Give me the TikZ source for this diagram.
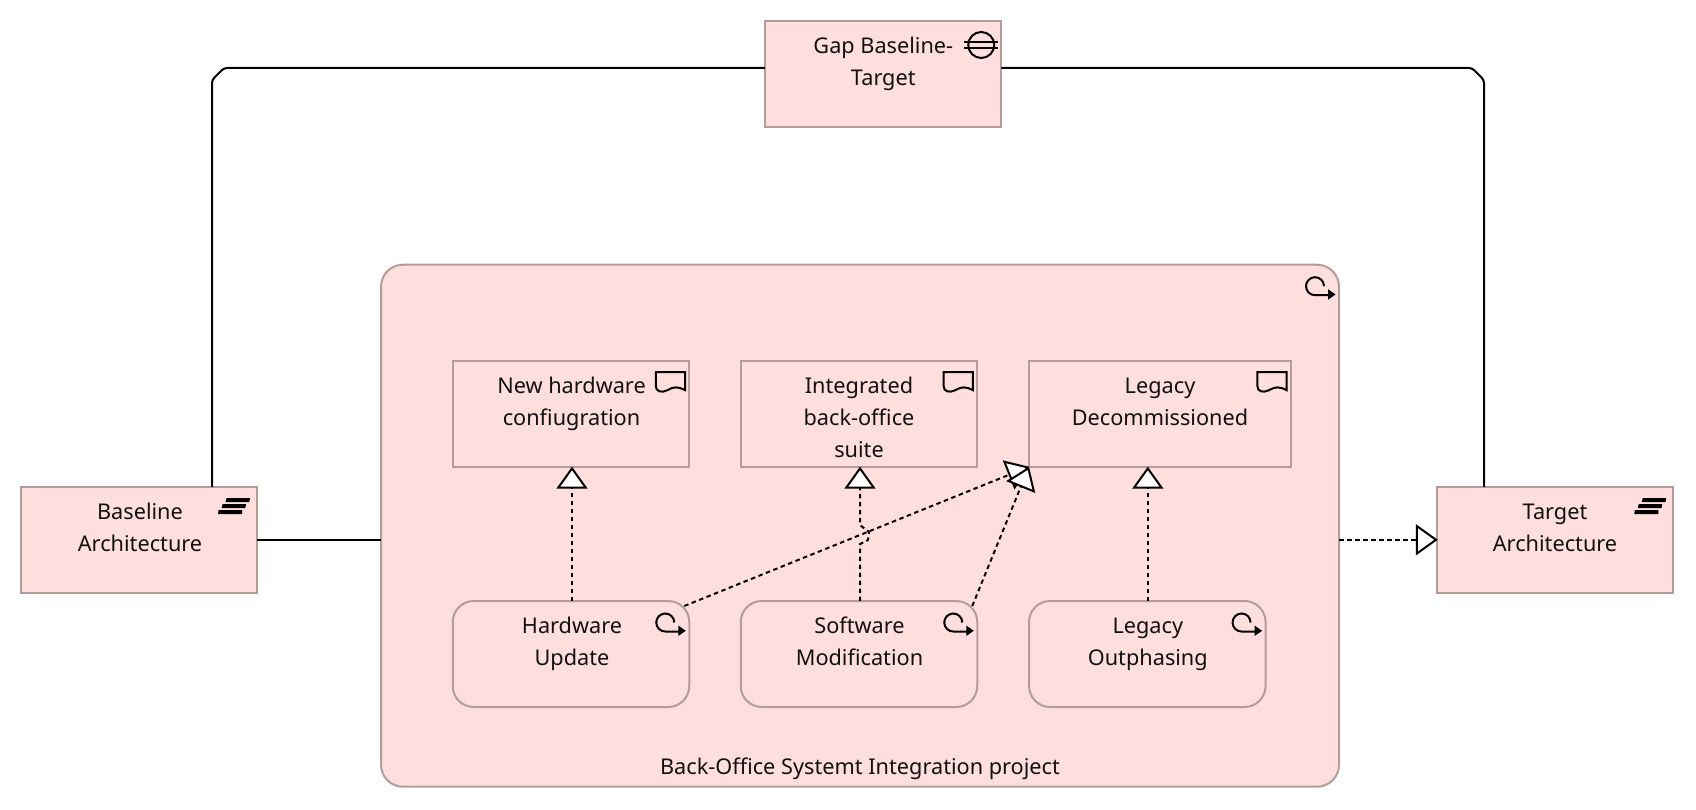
\documentclass[tikz,border=0pt]{standalone}
\usepackage{fontspec}
\setmainfont{Noto Sans}
\usetikzlibrary{arrows.meta,calc}
\definecolor{boxfill}{HTML}{FFDFDD}
\definecolor{boxline}{HTML}{B39C9C}
\definecolor{inktext}{HTML}{111111}
\tikzset{
  elem/.style={draw=boxline,fill=boxfill,line width=2pt,inner sep=0pt,outer sep=0pt,minimum width=236.5pt,minimum height=106pt},
  activ/.style={elem,rounded corners=21pt},
  lbl/.style={anchor=north,inner sep=0pt,outer sep=0pt,align=center,text=inktext,font=\fontsize{21.7}{32}\selectfont},
  conn/.style={draw=black,line width=2pt,line join=round},
  real/.style={conn,dash pattern=on 4.5pt off 3.5pt,-{Triangle[open,length=22pt,width=31pt,fill=white,line width=2pt]}},
  activityicon/.pic={
    \draw[line width=2pt,black] (-15,21.5) arc[start angle=0,end angle=-270,radius=9] -- (-10,30.5);
    \fill[black] (-11,24.5) -- (-3.5,29.8) -- (-11,35) -- cycle;
  },
  deliverableicon/.pic={
    \draw[line width=2pt,black,line join=miter] (-33.7,11.3) -- (-4.3,11.3) -- (-4.3,29.5)
      .. controls (-12,25.5) and (-16,26) .. (-22,29.5) .. controls (-28,32.5) and (-33.7,31) .. (-33.7,25) -- cycle;
  },
  plateauicon/.pic={
    \fill[black] (-30.5,11.3) -- (-7,11.3) -- (-7.8,15.3) -- (-31.5,15.3) -- cycle;
    \fill[black] (-34.5,17.3) -- (-11,17.3) -- (-11.8,21.3) -- (-35.5,21.3) -- cycle;
    \fill[black] (-38.5,23.3) -- (-15,23.3) -- (-15,27.3) -- (-39,27.3) -- cycle;
  },
  gapicon/.pic={
    \draw[line width=2pt,black] (-20,24.3) circle[radius=13];
    \draw[line width=2pt,black] (-37,21.5) -- (-3,21.5) (-37,27.5) -- (-3,27.5);
  }
}
\begin{document}
\begin{tikzpicture}[x=1pt,y=-1pt]
\useasboundingbox (0,0) rectangle (1696,810);
% project container
\node[elem,rounded corners=22pt,minimum width=958pt,minimum height=522pt] (big) at (860,525.7) {};
\pic at (big.north east) {activityicon};
\node[lbl] (bigl) at (860,752.2) {\strut Back-Office Systemt Integration project};
% plateaus and gap
\node[elem] (bl) at (138.8,539.8) {};
\node[elem] (tg) at (1555,539.8) {};
\node[elem] (gap) at (883,73.7) {};
\pic at (bl.north east) {plateauicon};
\pic at (tg.north east) {plateauicon};
\pic at (gap.north east) {gapicon};
\node[lbl] (bll) at ($(bl.north)+(1.2,10.3)$) {\strut Baseline\\Architecture};
\node[lbl] (tgl) at ($(tg.north)+(0,10.3)$) {\strut Target\\Architecture};
\node[lbl] (gapl) at ($(gap.north)+(0.3,10.3)$) {\strut Gap Baseline-\\Target};
% deliverables
\node[elem] (d1) at (571.2,413.7) {};
\node[elem] (d2) at (859,413.7) {};
\node[elem,minimum width=262pt] (d3) at (1160,413.7) {};
\pic at (d1.north east) {deliverableicon};
\pic at (d2.north east) {deliverableicon};
\pic at (d3.north east) {deliverableicon};
\node[lbl] (d1l) at ($(d1.north)+(0.3,10.3)$) {\strut New hardware\\confiugration};
\node[lbl] (d2l) at ($(d2.north)+(0,10.3)$) {\strut Integrated\\back-office\\suite};
\node[lbl] (d3l) at ($(d3.north)+(0,10.3)$) {\strut Legacy\\Decommissioned};
% activities
\node[activ] (a1) at (571,654) {};
\node[activ] (a2) at (859,654) {};
\node[activ] (a3) at (1147.3,654) {};
\pic at (a1.north east) {activityicon};
\pic at (a2.north east) {activityicon};
\pic at (a3.north east) {activityicon};
\node[lbl] (a1l) at ($(a1.north)+(1,10.3)$) {\strut Hardware\\Update};
\node[lbl] (a2l) at ($(a2.north)+(0.5,10.3)$) {\strut Software\\Modification};
\node[lbl] (a3l) at ($(a3.north)+(0.5,10.3)$) {\strut Legacy\\Outphasing};
% connectors
\coordinate (cl) at (212,68);
\coordinate (cr) at (1484,68);
\draw[conn,rounded corners=3pt] (cl |- bl.north) -- ($(cl)+(0,12)$) -- ($(cl)+(12,0)$) -- (gap.west |- cl);
\draw[conn,rounded corners=3pt] (cr |- tg.north) -- ($(cr)+(0,12)$) -- ($(cr)+(-12,0)$) -- (gap.east |- cr);
\draw[conn] (bl.east) -- (bl.east -| big.west);
\draw[real] (big.east |- tg.west) -- ($(tg.west)+(1,0)$);
\coordinate (x1) at ($(a1.north)+(1,0)$);
\coordinate (x2) at ($(a2.north)+(1,0)$);
\coordinate (x3) at ($(a3.north)+(0.5,0)$);
\draw[real] (x1) -- (x1 |- d1.south);
\draw[real] (x3) -- (x3 |- d3.south);
\coordinate (k) at (x2 |- 0,544);
\draw[real] (x2) -- (k) -- ($(k)+(8,-4)$) -- ($(k)+(9,-12)$) -- ($(k)+(0,-19)$) -- (x2 |- d2.south);
\draw[real] (a1.north east) ++(-5,5) -- (d3.south west);
\draw[real] (a2.north east) ++(-5,5) -- (d3.south west);
\end{tikzpicture}
\end{document}
